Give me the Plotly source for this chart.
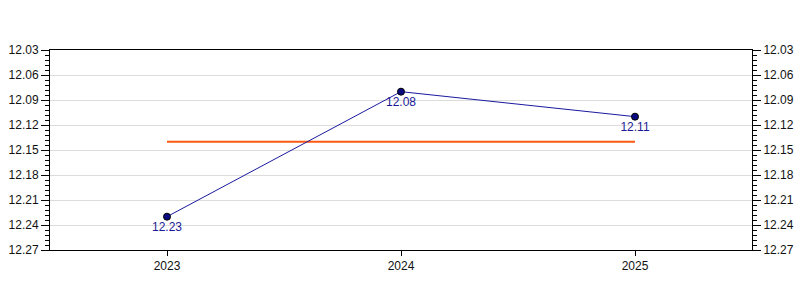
import plotly.graph_objects as go

years = ["2023", "2024", "2025"]
values = [12.23, 12.08, 12.11]
average = [12.14, 12.14, 12.14]
label_texts = ["12.23", "12.08", "12.11"]

yaxis_common = dict(
    range=[12.27, 12.03],
    tick0=12.03,
    dtick=0.03,
    tickformat=".2f",
    ticks="outside",
    ticklen=8,
    tickcolor="black",
    showline=True,
    linecolor="black",
    linewidth=1,
    zeroline=False,
    automargin=False,
    tickfont=dict(family="Liberation Sans, Arial", size=12, color="#111"),
    minor=dict(dtick=0.006, ticks="outside", ticklen=4, tickcolor="black", showgrid=False),
)

fig = go.Figure()
fig.add_trace(go.Scatter(
    x=years, y=average, mode="lines",
    line=dict(color="#FF5A14", width=2),
    hoverinfo="skip", showlegend=False,
))
fig.add_trace(go.Scatter(
    x=years, y=values, mode="lines+markers+text",
    line=dict(color="#1A1AA0", width=1),
    marker=dict(size=7, color="#0A0A80", line=dict(color="black", width=1)),
    text=label_texts, textposition="bottom center",
    textfont=dict(family="Liberation Sans, Arial", size=12, color="#1A1A96"),
    showlegend=False,
))
fig.add_trace(go.Scatter(
    x=years, y=values, mode="none", yaxis="y2", showlegend=False, hoverinfo="skip",
))

fig.update_layout(
    width=800, height=300,
    margin=dict(l=50, r=48, t=50, b=50),
    paper_bgcolor="white", plot_bgcolor="white",
    xaxis=dict(
        type="category",
        range=[-0.5, 2.5],
        ticks="outside", ticklen=5, tickcolor="black",
        showline=True, linecolor="black", linewidth=1, mirror=True,
        showgrid=False, zeroline=False, automargin=False,
        tickfont=dict(family="Liberation Sans, Arial", size=12, color="#111"),
    ),
    yaxis=dict(**yaxis_common, side="left", showgrid=True, gridcolor="#DCDCDC", gridwidth=1),
    yaxis2=dict(**yaxis_common, side="right", overlaying="y", showgrid=False),
)

fig.write_html("out.html")
